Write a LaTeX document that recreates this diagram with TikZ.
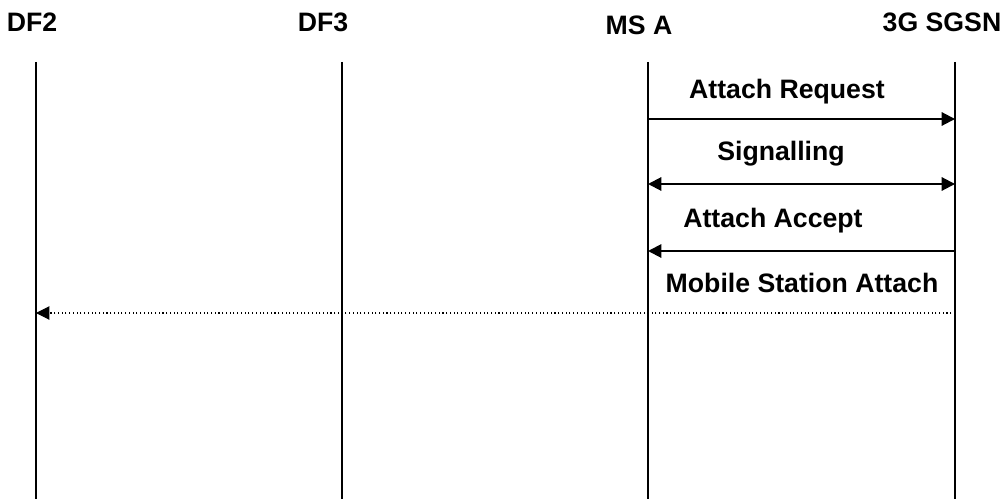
\documentclass[tikz,border=0pt]{standalone}
\usepackage{fontspec}
\setmainfont{Liberation Sans}
\usetikzlibrary{arrows.meta,positioning}
\tikzset{
  entity/.style={font=\fontsize{20}{24}\selectfont\bfseries, inner sep=0pt, anchor=base},
  msglabel/.style={font=\fontsize{20}{24}\selectfont\bfseries, inner sep=0pt, anchor=base},
  lifeline/.style={line width=1.5pt, color=black},
  arr/.style={-{Triangle[length=10pt,width=10pt]}, line width=1.5pt},
  darr/.style={{Triangle[length=10pt,width=10pt]}-{Triangle[length=10pt,width=10pt]}, line width=1.5pt},
  dotarr/.style={-{Triangle[length=10pt,width=10pt]}, line width=0.8pt, dotted}}

\begin{document}
\begin{tikzpicture}[x=0.75pt, y=-0.75pt]
  \useasboundingbox (0,0) rectangle (1002,499);
  % entities
  \node[entity] (df2) at (32,32) {DF2};
  \node[entity] (df3) at (323,32) {DF3};
  \node[entity] (msa) at (639,35) {MS A};
  \node[entity] (sgsn) at (942,32) {3G SGSN};
  % lifelines
  \foreach \n/\x in {df2/36, df3/342, msa/648, sgsn/955}{
    \coordinate (\n top) at (\x,62);
    \coordinate (\n bot) at (\x,499);
    \draw[lifeline] (\n top) -- (\n bot);
  }
  % messages
  \coordinate (req a) at (648,119);   \coordinate (req b) at (955,119);
  \coordinate (sig a) at (648,184);   \coordinate (sig b) at (955,184);
  \coordinate (acc a) at (648,251);   \coordinate (acc b) at (955,251);
  \coordinate (att a) at (36,313);    \coordinate (att b) at (955,313);
  \draw[arr] (req a) -- (req b);
  \draw[darr] (sig a) -- (sig b);
  \draw[arr] (acc b) -- (acc a);
  \draw[dotarr] (att b) -- (att a);
  \node[msglabel] (req) at (787,99) {Attach Request};
  \node[msglabel] (sig) at (781,161) {Signalling};
  \node[msglabel] (acc) at (773,227) {Attach Accept};
  \node[msglabel] (att) at (802,292) {Mobile Station Attach};
\end{tikzpicture}
\end{document}
